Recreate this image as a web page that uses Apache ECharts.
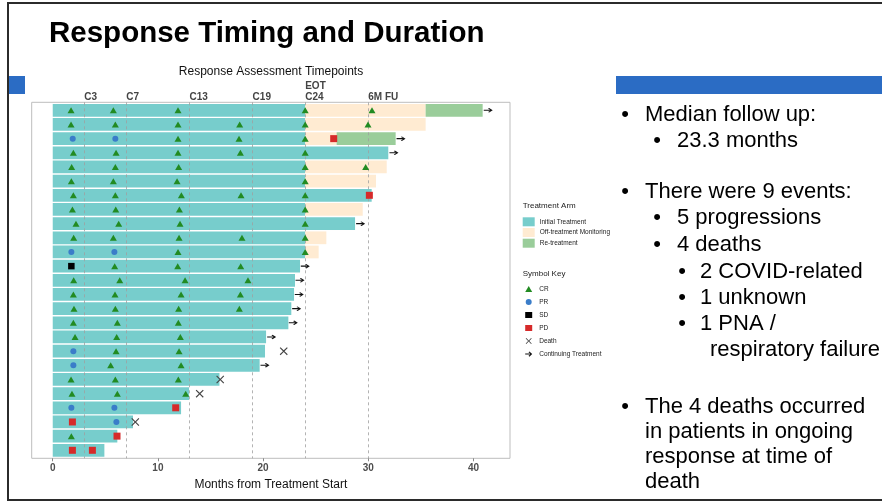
<!DOCTYPE html>
<html><head><meta charset="utf-8">
<script src="https://cdn.jsdelivr.net/npm/echarts@6/dist/echarts.min.js"></script>
<style>html,body{margin:0;padding:0;background:#fff}#c{width:882px;height:502px}</style>
</head><body><div id="c"></div>
<script>
// ---------- data ----------
const patients = ['P1','P2','P3','P4','P5','P6','P7','P8','P9','P10','P11','P12','P13','P14','P15','P16','P17','P18','P19','P20','P21','P22','P23','P24','P25'];
const initialEnd = [24.0, 24.0, 24.0, 31.90, 24.0, 24.0, 30.32, 24.0, 28.74, 24.0, 24.0, 23.51, 23.03, 22.94, 22.68, 22.40, 20.28, 20.18, 19.67, 15.85, 12.96, 12.20, 7.63, 6.14, 4.91];
const offEnd = [35.45, 35.45, 26.99, null, 31.75, 30.73, null, 29.47, null, 26.01, 25.28, null, null, null, null, null, null, null, null, null, null, null, null, null, null];
const reEnd = [40.87, null, 32.60, null, null, null, null, null, null, null, null, null, null, null, null, null, null, null, null, null, null, null, null, null, null];

const crPoints = [
  [1.74,0],[5.76,0],[11.91,0],[24.0,0],[30.35,0],
  [1.74,1],[5.95,1],[11.91,1],[17.77,1],[24.0,1],[29.97,1],
  [11.91,2],[17.71,2],[24.0,2],
  [1.96,3],[6.02,3],[11.91,3],[17.84,3],[24.0,3],
  [1.80,4],[5.95,4],[11.97,4],[24.0,4],[29.75,4],
  [1.77,5],[5.76,5],[11.82,5],[24.0,5],
  [1.96,6],[5.95,6],[12.23,6],[17.90,6],[24.0,6],
  [1.87,7],[5.99,7],[12.04,7],[24.0,7],
  [2.21,8],[6.27,8],[12.10,8],[24.0,8],
  [1.99,9],[5.76,9],[12.01,9],[17.99,9],[24.0,9],
  [11.91,10],[24.0,10],
  [5.89,11],[11.88,11],[17.87,11],
  [1.99,12],[6.37,12],[12.58,12],[18.56,12],
  [1.96,13],[5.92,13],[12.20,13],[17.84,13],
  [2.02,14],[5.95,14],[11.97,14],[17.74,14],
  [1.96,15],[6.14,15],[11.94,15],
  [2.12,16],[6.08,16],[12.13,16],
  [6.02,17],[12.01,17],
  [5.51,18],[12.20,18],
  [1.74,19],[5.95,19],[11.94,19],
  [1.83,20],[6.14,20],[12.64,20],
  [1.77,23]
];
const prPoints = [[1.90,2],[5.95,2],[1.77,10],[5.86,10],[1.96,17],[1.96,18],[1.77,21],[5.86,21],[6.05,22]];
const sdPoints = [[1.77,11]];
const pdPoints = [[26.71,2],[30.10,6],[11.69,21],[1.87,22],[6.11,23],[1.87,24],[3.77,24]];
const deathPoints = [[21.96,17],[15.92,19],[13.97,20],[7.85,22]];
const continuingPoints = [[41.40,0],[33.11,2],[32.44,3],[29.27,8],[24.01,11],[23.51,12],[23.44,13],[23.19,14],[22.87,15],[20.81,16],[20.18,18]];

const timepointValues = [3, 7, 13, 19, 24, 30];
const timepointLabels = ['C3', 'C7', 'C13', 'C19', 'EOT\nC24', '6M FU'];
const xTicks = [0, 10, 20, 30, 40];

const bulletLines = [
  // [bulletX, textX, baselineY, text]
  [625, 645, 121.7, 'Median follow up:'],
  [657, 677, 147.5, '23.3 months'],
  [625, 645, 198.3, 'There were 9 events:'],
  [657, 677, 225, '5 progressions'],
  [657, 677, 251.7, '4 deaths'],
  [682, 700, 278.3, '2 COVID-related'],
  [682, 700, 305, '1 unknown'],
  [682, 700, 330.7, '1 PNA /'],
  [null, 710, 356.7, 'respiratory failure'],
  [625, 645, 413.3, 'The 4 deaths occurred'],
  [null, 645, 438.5, 'in patients in ongoing'],
  [null, 645, 463.8, 'response at time of'],
  [null, 645, 489, 'death']
];

// ---------- build ----------
const FONT = 'Liberation Sans, Arial, Helvetica, sans-serif';
const initialSeg = initialEnd.map((e, i) => [0, e, i]);
const offSeg = [];
offEnd.forEach((e, i) => { if (e != null) offSeg.push([initialEnd[i], e, i]); });
const reSeg = [];
reEnd.forEach((e, i) => { if (e != null) reSeg.push([offEnd[i], e, i]); });

function barRender(params, api) {
  const s = api.coord([api.value(0), api.value(2)]);
  const e = api.coord([api.value(1), api.value(2)]);
  const h = api.size([0, 1])[1] * 0.9;
  return { type: 'rect', shape: { x: s[0], y: s[1] - h / 2, width: e[0] - s[0], height: h }, style: { fill: api.visual('color') } };
}
function barSeries(name, data, color) {
  return { name, type: 'custom', renderItem: barRender, data, encode: { x: [0, 1], y: 2 },
    itemStyle: { color }, z: 2 };
}
const ARROW = 'path://M0,2.3 L5.8,2.3 L3.8,0.9 L4.8,0 L8,3 L4.8,6 L3.8,5.1 L5.8,3.7 L0,3.7 Z';
const CROSS = 'path://M0,1 L1,0 L5,4 L9,0 L10,1 L6,5 L10,9 L9,10 L5,6 L1,10 L0,9 L4,5 Z';
function scat(name, data, symbol, size, color) {
  return { name, type: 'scatter', data, symbol, symbolSize: size, itemStyle: { color, opacity: 1 }, z: 5, symbolKeepAspect: true };
}

const graphics = [];
graphics.push({ type: 'rect', shape: { x: 8, y: 3, width: 900, height: 497 }, style: { fill: null, stroke: '#2b2b2b', lineWidth: 2 }, z: 100 });
graphics.push({ type: 'rect', shape: { x: 9, y: 76, width: 16, height: 18 }, style: { fill: '#2b6cc4' }, z: 50 });
graphics.push({ type: 'rect', shape: { x: 616, y: 76, width: 270, height: 18 }, style: { fill: '#2b6cc4' }, z: 50 });
graphics.push({ type: 'text', x: 49, y: 33.5, style: { text: 'Response Timing and Duration', font: 'bold 29.5px ' + FONT, fill: '#000', verticalAlign: 'middle', align: 'left' }, z: 50 });
graphics.push({ type: 'text', x: 271, y: 72, style: { text: 'Response Assessment Timepoints', font: '12px ' + FONT, fill: '#111', verticalAlign: 'middle', align: 'center' }, z: 50 });
graphics.push({ type: 'text', x: 522.7, y: 206, style: { text: 'Treatment Arm', font: '8px ' + FONT, fill: '#222', verticalAlign: 'middle', align: 'left' }, z: 50 });
graphics.push({ type: 'text', x: 522.7, y: 273.3, style: { text: 'Symbol Key', font: '8px ' + FONT, fill: '#222', verticalAlign: 'middle', align: 'left' }, z: 50 });
bulletLines.forEach(([bx, tx, by, t]) => {
  const cy = by - 6.8;
  if (bx != null) graphics.push({ type: 'text', x: bx, y: cy, style: { text: '•', font: '22px ' + FONT, fill: '#000', verticalAlign: 'middle', align: 'center' }, z: 50 });
  graphics.push({ type: 'text', x: tx, y: cy, style: { text: t, font: '22px ' + FONT, fill: '#000', verticalAlign: 'middle', align: 'left' }, z: 50 });
});

const chart = echarts.init(document.getElementById('c'), null, { renderer: 'canvas' });
chart.setOption({
  animation: false,
  backgroundColor: '#fff',
  textStyle: { fontFamily: FONT },
  grid: { left: 31.7, right: 372, top: 102.3, bottom: 43.7, show: true, borderColor: '#bdbdbd', borderWidth: 1, backgroundColor: 'transparent' },
  xAxis: [
    { type: 'value', min: -2, max: 43.47, position: 'bottom',
      axisLine: { show: false, onZero: false }, splitLine: { show: false },
      axisTick: { show: true, customValues: xTicks, length: 3, lineStyle: { color: '#888' } },
      axisLabel: { customValues: xTicks, fontSize: 10, fontWeight: 'bold', color: '#4d4d4d', margin: 5 },
      name: 'Months from Treatment Start', nameLocation: 'middle', nameGap: 11,
      nameTextStyle: { fontSize: 12, color: '#111', verticalAlign: 'top' } },
    { type: 'value', min: -2, max: 43.47, position: 'top',
      axisLine: { show: false, onZero: false }, splitLine: { show: false }, axisTick: { show: false },
      axisLabel: { customValues: timepointValues, formatter: v => timepointLabels[timepointValues.indexOf(v)] || '',
        align: 'left', margin: -1, fontSize: 10, fontWeight: 'bold', color: '#444', lineHeight: 11.5 } }
  ],
  yAxis: { type: 'value', inverse: true, min: -0.565, max: 24.565, show: false,
    axisLine: { show: false, onZero: false }, axisTick: { show: false }, axisLabel: { show: false }, splitLine: { show: false } },
  legend: [
    { data: [{ name: 'Initial Treatment', icon: 'rect' }, { name: 'Off-treatment Monitoring', icon: 'rect' }, { name: 'Re-treatment', icon: 'rect' }],
      orient: 'vertical', left: 522.7, top: 217.3, itemWidth: 12, itemHeight: 9, itemGap: 1.7, padding: 0,
      textStyle: { fontSize: 6.5, color: '#222' }, selectedMode: false },
    { data: ['CR', 'PR', 'SD', 'PD', 'Death', 'Continuing Treatment'],
      orient: 'vertical', left: 525.2, top: 285.5, itemWidth: 7, itemHeight: 6, itemGap: 6, padding: 0,
      textStyle: { fontSize: 6.5, color: '#222', padding: [0, 0, 0, 2] }, selectedMode: false }
  ],
  graphic: graphics,
  series: [
    barSeries('Initial Treatment', initialSeg, '#77cdcc'),
    barSeries('Off-treatment Monitoring', offSeg, '#ffebd2'),
    barSeries('Re-treatment', reSeg, '#9acd9a'),
    { type: 'custom', renderItem: () => null, data: [], z: 3, silent: true,
      markLine: { silent: true, symbol: ['none', 'none'], label: { show: false },
        lineStyle: { color: '#a0a0a0', type: [3, 3], width: 0.8 },
        data: timepointValues.map(v => ({ xAxis: v })) } },
    scat('CR', crPoints, 'triangle', [7, 6], '#228b22'),
    scat('PR', prPoints, 'circle', 6, '#3a7dc9'),
    scat('SD', sdPoints, 'rect', 6.5, '#000'),
    scat('PD', pdPoints, 'rect', 7, '#d62a2a'),
    scat('Death', deathPoints, CROSS, 8, '#444'),
    scat('Continuing Treatment', continuingPoints, ARROW, [9, 6], '#111')
  ]
});
</script></body></html>
